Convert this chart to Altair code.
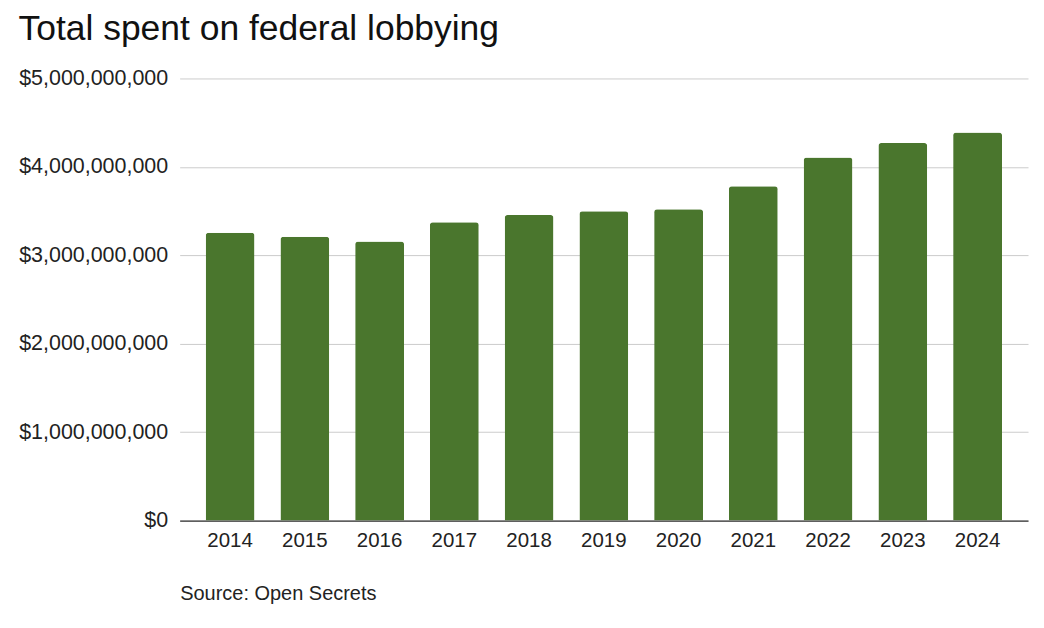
import altair as alt
import pandas as pd

years = ["2014", "2015", "2016", "2017", "2018", "2019", "2020", "2021", "2022", "2023", "2024"]
spent = [3.255e9, 3.21e9, 3.155e9, 3.375e9, 3.455e9, 3.497e9, 3.52e9, 3.78e9, 4.107e9, 4.27e9, 4.39e9]
y_ticks = [0, 1e9, 2e9, 3e9, 4e9, 5e9]

df = pd.DataFrame({"year": years, "spent": spent})

FONT = "Liberation Sans"

chart = alt.Chart(df).mark_bar(
    color="#4a762d", cornerRadiusTopLeft=3, cornerRadiusTopRight=3
).encode(
    x=alt.X("year:N", sort=years,
            scale=alt.Scale(paddingInner=0.346, paddingOuter=0.348),
            axis=alt.Axis(title="Source: Open Secrets", labelAngle=0, labelFontSize=20.5,
                          labelColor="#222", labelFont=FONT, labelPadding=10,
                          ticks=False, domainColor="#333", domainWidth=1.2,
                          titleFontSize=20, titleFontWeight="normal", titleFont=FONT,
                          titleColor="#222", titleAnchor="start", titleAlign="left",
                          titlePadding=33)),
    y=alt.Y("spent:Q", scale=alt.Scale(domain=[0, 5e9], nice=False),
            axis=alt.Axis(title=None, values=y_ticks, format="$,.0f", labelFontSize=21.5,
                          labelColor="#222", labelFont=FONT, labelPadding=12,
                          ticks=False, domain=False, gridColor="#cccccc", gridWidth=1)),
).properties(
    width=850, height=443,
    title=alt.TitleParams("Total spent on federal lobbying", anchor="start", frame="bounds",
                          fontSize=35.5, fontWeight="normal", font=FONT, color="#111",
                          offset=20),
    padding={"left": 10, "top": 3, "right": 8, "bottom": 5},
).configure_view(stroke=None)

chart.save("out.html", embed_options={"renderer": "svg", "actions": False})
